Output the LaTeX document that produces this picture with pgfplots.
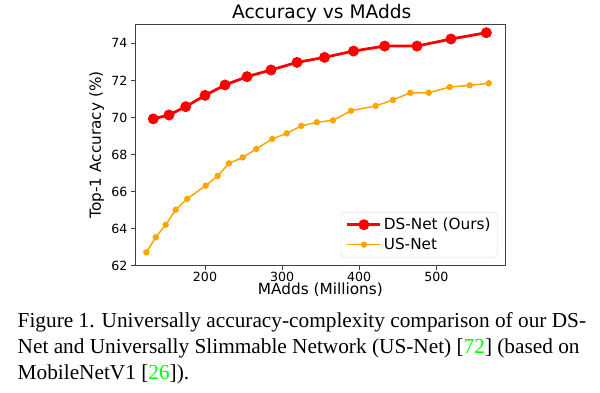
\documentclass[border=0pt]{standalone}
\usepackage{fontspec}
\setmainfont{DejaVu Sans}
\newfontfamily\capfont{Liberation Serif}
\usepackage{pgfplots}
\pgfplotsset{compat=1.18}
\definecolor{dsred}{RGB}{255,0,0}
\definecolor{usorange}{RGB}{255,165,0}
\definecolor{citegreen}{RGB}{0,255,0}
\begin{document}
\begin{tikzpicture}
\useasboundingbox (0,0) rectangle (600pt,392pt);
\begin{axis}[
  at={(135pt,126.3pt)}, anchor=south west,
  scale only axis, width=370.7pt, height=241.7pt,
  xmin=109.2, xmax=590, ymin=62, ymax=75.04,
  xtick={200,300,400,500}, ytick={62,64,...,74},
  tick align=outside, major tick length=4pt,
  xtick pos=bottom, ytick pos=left,
  tick style={black!75, line width=0.8pt},
  axis line style={black!75, line width=0.8pt},
  /pgf/number format/assume math mode=true,
  ticklabel style={font=\fontsize{12.6}{14}\selectfont},
  xticklabel style={yshift=1pt},
  xlabel={MAdds (Millions)},
  ylabel={Top-1 Accuracy (\%)},
  label style={font=\fontsize{15.3}{18}\selectfont},
  xlabel style={at={(axis description cs:0.5,-0.1200)}, anchor=base},
  ylabel style={at={(axis description cs:-0.1033,0.5)}, anchor=center},
  legend cell align=left,
  legend style={at={(1,0)}, anchor=south east, xshift=-8pt, yshift=8.4pt,
    draw=black!15, rounded corners=3pt, font=\fontsize{15.3}{18}\selectfont,
    inner xsep=5pt, inner ysep=4pt, row sep=3pt},
  legend image code/.code={\draw[mark repeat=2,mark phase=2,#1] plot coordinates {(0pt,0pt) (16.5pt,0pt) (33pt,0pt)};},
]
\addplot[color=dsred, line width=2.8pt, mark=*, mark size=4pt, mark options={solid, draw=none, fill=dsred}] coordinates {
(132.9,69.92) (153.3,70.13) (175,70.58) (200,71.19) (225.9,71.75) (254.5,72.2) (285.6,72.56) (319.3,72.97) (355,73.24) (392.6,73.58) (433,73.85) (475,73.85) (519,74.23) (564.9,74.57)
};
\addlegendentry{DS-Net (Ours)}
\addplot[color=usorange, line width=1.5pt, mark=*, mark size=2.4pt, mark options={solid, draw=none, fill=usorange}] coordinates {
(123.9,62.72) (136.1,63.53) (149,64.21) (162,65.02) (177,65.61) (200.9,66.32) (216.5,66.84) (231,67.52) (248.9,67.84) (266.5,68.3) (287.3,68.84) (306,69.14) (324.8,69.54) (345,69.74) (366,69.84) (389.4,70.36) (421.4,70.62) (443.8,70.94) (466.3,71.33) (490.1,71.33) (517.4,71.64) (543.3,71.73) (568,71.84)
};
\addlegendentry{US-Net}
\end{axis}
\node[anchor=base, inner sep=0pt, font=\fontsize{18.6}{22}\selectfont] at (321.7pt,373pt) {Accuracy vs MAdds};
\begin{scope}[every node/.style={anchor=base west, inner sep=0pt, font=\capfont\fontsize{21.3}{26}\selectfont}]
\node at (17.5pt,64.7pt) {Figure 1. Universally accuracy-complexity comparison of our DS-};
\node at (17.5pt,38.7pt) {Net and Universally Slimmable Network (US-Net) [\textcolor{citegreen}{72}] (based on};
\node at (17.5pt,12.7pt) {MobileNetV1 [\textcolor{citegreen}{26}]).};
\end{scope}
\end{tikzpicture}
\end{document}
